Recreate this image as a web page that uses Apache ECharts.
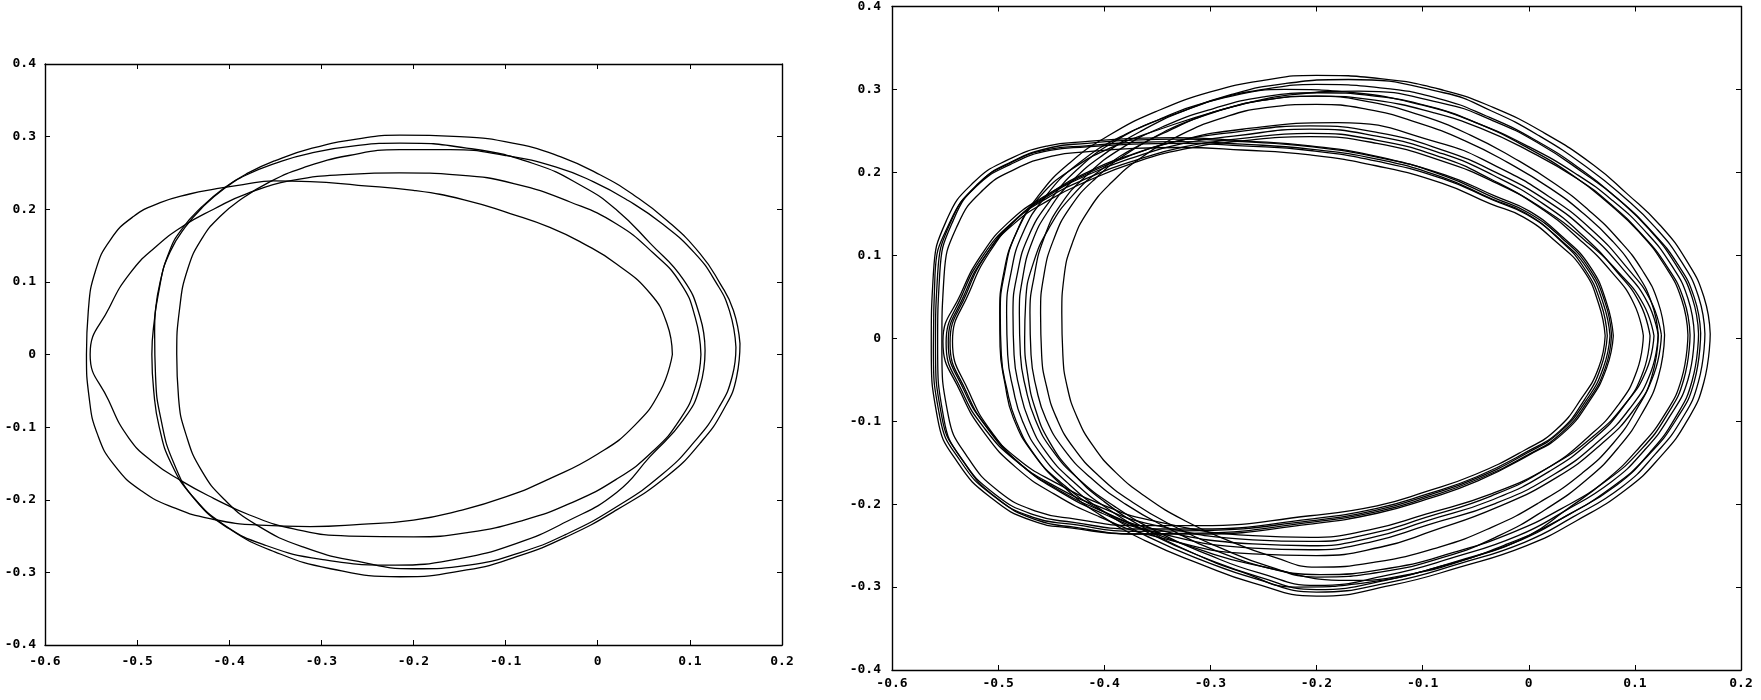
<!DOCTYPE html>
<html>
<head>
<meta charset="utf-8">
<script src="https://cdn.jsdelivr.net/npm/echarts@6/dist/echarts.min.js"></script>
<style>
html,body{margin:0;padding:0;background:#fff;}
#chart{width:1761px;height:700px;}
</style>
</head>
<body>
<div id="chart"></div>
<script>
// ---- axis ticks ----
const xTicks = [-0.6, -0.5, -0.4, -0.3, -0.2, -0.1, 0, 0.1, 0.2];
const yTicks = [-0.4, -0.3, -0.2, -0.1, 0, 0.1, 0.2, 0.3, 0.4];

// ---- left panel: trajectory loops [x, y] ----
const leftLoop1 = [[0.081,0.0],[0.075,0.043],[0.057,0.084],[0.02,0.125],[-0.016,0.153],[-0.052,0.175],[-0.095,0.194],[-0.145,0.213],[-0.2,0.226],[-0.26,0.233],[-0.312,0.238],[-0.352,0.239],[-0.385,0.234],[-0.415,0.228],[-0.443,0.221],[-0.475,0.209],[-0.504,0.19],[-0.529,0.158],[-0.545,0.116],[-0.553,0.06],[-0.555,0.0],[-0.552,-0.06],[-0.543,-0.11],[-0.525,-0.152],[-0.495,-0.188],[-0.458,-0.212],[-0.421,-0.226],[-0.367,-0.235],[-0.312,-0.237],[-0.258,-0.234],[-0.2,-0.228],[-0.15,-0.215],[-0.1,-0.196],[-0.052,-0.171],[0.0,-0.137],[0.039,-0.099],[0.068,-0.05],[0.081,0.0]];
const leftLoop2 = [[0.112,0.0],[0.106,0.05],[0.09,0.098],[0.06,0.14],[0.02,0.18],[-0.03,0.21],[-0.09,0.235],[-0.15,0.247],[-0.215,0.25],[-0.27,0.248],[-0.33,0.24],[-0.38,0.222],[-0.417,0.2],[-0.45,0.177],[-0.48,0.148],[-0.507,0.113],[-0.53,0.065],[-0.551,0.0],[-0.531,-0.063],[-0.509,-0.115],[-0.483,-0.148],[-0.452,-0.174],[-0.417,-0.198],[-0.378,-0.221],[-0.33,-0.24],[-0.27,-0.25],[-0.2,-0.251],[-0.14,-0.245],[-0.08,-0.228],[-0.03,-0.205],[0.02,-0.172],[0.06,-0.133],[0.09,-0.088],[0.106,-0.045],[0.112,0.0]];
const leftLoop3 = [[0.1165,0.006],[0.111,0.052],[0.093,0.103],[0.057,0.153],[0.0205,0.199],[-0.0157,0.231],[-0.07,0.263],[-0.1423,0.2843],[-0.2147,0.291],[-0.26,0.288],[-0.3124,0.277],[-0.3485,0.264],[-0.381,0.2475],[-0.405,0.229],[-0.428,0.204],[-0.448,0.175],[-0.464,0.142],[-0.475,0.1],[-0.481,0.05],[-0.484,0.0],[-0.482,-0.05],[-0.476,-0.1],[-0.463,-0.15],[-0.44,-0.195],[-0.405,-0.235],[-0.36,-0.263],[-0.3,-0.282],[-0.22,-0.29],[-0.15,-0.281],[-0.088,-0.26],[-0.0337,-0.23],[0.0205,-0.19],[0.0567,-0.1407],[0.0929,-0.09],[0.111,-0.044],[0.1165,0.006]];
const leftLoop4 = [[0.1544,0.015],[0.1472,0.061],[0.1327,0.098],[0.111,0.139],[0.0748,0.185],[0.0386,0.22],[0.0024,0.2475],[-0.04,0.272],[-0.088,0.29],[-0.15,0.3],[-0.2147,0.302],[-0.26,0.297],[-0.31,0.284],[-0.35,0.267],[-0.381,0.249],[-0.406,0.229],[-0.43,0.203],[-0.45,0.175],[-0.465,0.142],[-0.476,0.09],[-0.481,0.03],[-0.48,-0.03],[-0.474,-0.09],[-0.46,-0.15],[-0.437,-0.2],[-0.4,-0.24],[-0.35,-0.272],[-0.29,-0.295],[-0.2147,-0.306],[-0.1423,-0.2967],[-0.088,-0.2784],[-0.0337,-0.2509],[0.0205,-0.214],[0.0748,-0.168],[0.111,-0.1223],[0.1363,-0.0764],[0.1508,-0.0305],[0.1544,0.015]];
const leftLoop5 = [[0.150,0.01],[0.143,0.06],[0.128,0.1],[0.105,0.14],[0.07,0.18],[0.033,0.212],[-0.005,0.238],[-0.045,0.258],[-0.1,0.274],[-0.16,0.282],[-0.215,0.282],[-0.27,0.274],[-0.32,0.257],[-0.357,0.237],[-0.388,0.213],[-0.41,0.19],[-0.429,0.161],[-0.445,0.118],[-0.454,0.062],[-0.457,0.0],[-0.455,-0.06],[-0.447,-0.11],[-0.43,-0.16],[-0.405,-0.2],[-0.37,-0.235],[-0.32,-0.265],[-0.26,-0.285],[-0.2,-0.295],[-0.14,-0.29],[-0.085,-0.273],[-0.035,-0.248],[0.02,-0.21],[0.07,-0.165],[0.105,-0.12],[0.131,-0.074],[0.146,-0.03],[0.150,0.01]];

// ---- right panel: trajectory loops [x, y] ----
const rightOuterA = [[0.171,0.005],[0.165,0.05],[0.149,0.093],[0.124,0.136],[0.092,0.175],[0.061,0.209],[0.014,0.248],[-0.033,0.278],[-0.08,0.299],[-0.14,0.313],[-0.2,0.317],[-0.25,0.311],[-0.3,0.297],[-0.35,0.274],[-0.395,0.245],[-0.432,0.212],[-0.462,0.172],[-0.483,0.127],[-0.494,0.078],[-0.498,0.03],[-0.497,-0.02],[-0.492,-0.06],[-0.483,-0.1],[-0.466,-0.14],[-0.44,-0.177],[-0.404,-0.213],[-0.36,-0.245],[-0.31,-0.272],[-0.26,-0.295],[-0.2,-0.311],[-0.13,-0.298],[-0.065,-0.276],[-0.002,-0.25],[0.045,-0.22],[0.092,-0.182],[0.124,-0.143],[0.149,-0.1],[0.165,-0.053],[0.171,0.005]];
const rightOuterB = [[0.166,0.005],[0.16,0.05],[0.144,0.092],[0.119,0.134],[0.088,0.172],[0.056,0.205],[0.01,0.244],[-0.035,0.274],[-0.08,0.296],[-0.17,0.312],[-0.23,0.307],[-0.28,0.294],[-0.33,0.272],[-0.38,0.246],[-0.425,0.21],[-0.456,0.17],[-0.477,0.126],[-0.488,0.078],[-0.492,0.03],[-0.491,-0.02],[-0.486,-0.06],[-0.477,-0.1],[-0.46,-0.139],[-0.434,-0.175],[-0.399,-0.21],[-0.356,-0.241],[-0.307,-0.268],[-0.257,-0.29],[-0.2,-0.306],[-0.13,-0.294],[-0.066,-0.272],[-0.004,-0.246],[0.041,-0.216],[0.088,-0.179],[0.119,-0.14],[0.144,-0.098],[0.16,-0.052],[0.166,0.005]];
const rightOuterC = [[0.16,0.005],[0.154,0.049],[0.138,0.09],[0.113,0.132],[0.083,0.169],[0.051,0.202],[0.006,0.239],[-0.04,0.268],[-0.085,0.289],[-0.14,0.302],[-0.2,0.306],[-0.25,0.3],[-0.3,0.286],[-0.348,0.264],[-0.392,0.236],[-0.425,0.204],[-0.451,0.166],[-0.471,0.124],[-0.482,0.077],[-0.486,0.03],[-0.485,-0.02],[-0.48,-0.06],[-0.471,-0.099],[-0.455,-0.137],[-0.429,-0.173],[-0.395,-0.207],[-0.353,-0.238],[-0.305,-0.265],[-0.256,-0.287],[-0.2,-0.303],[-0.132,-0.291],[-0.068,-0.269],[-0.007,-0.243],[0.037,-0.213],[0.083,-0.177],[0.114,-0.138],[0.138,-0.096],[0.154,-0.051],[0.16,0.005]];
const rightOuterD = [[0.156,0.004],[0.15,0.048],[0.134,0.089],[0.109,0.13],[0.079,0.166],[0.046,0.197],[0.0,0.231],[-0.05,0.26],[-0.1,0.281],[-0.165,0.296],[-0.23,0.3],[-0.28,0.292],[-0.325,0.274],[-0.365,0.25],[-0.4,0.222],[-0.43,0.19],[-0.452,0.155],[-0.468,0.116],[-0.477,0.072],[-0.48,0.03],[-0.479,-0.02],[-0.474,-0.06],[-0.465,-0.098],[-0.449,-0.135],[-0.424,-0.17],[-0.39,-0.203],[-0.349,-0.234],[-0.302,-0.261],[-0.254,-0.283],[-0.2,-0.298],[-0.134,-0.286],[-0.07,-0.264],[-0.01,-0.238],[0.033,-0.209],[0.078,-0.173],[0.109,-0.135],[0.133,-0.094],[0.15,-0.05],[0.156,0.004]];
const rightOuterE = [[0.15,0.004],[0.144,0.047],[0.128,0.088],[0.104,0.128],[0.074,0.164],[0.042,0.196],[-0.003,0.231],[-0.048,0.259],[-0.092,0.279],[-0.145,0.292],[-0.2,0.296],[-0.25,0.291],[-0.297,0.277],[-0.343,0.256],[-0.385,0.228],[-0.416,0.197],[-0.441,0.161],[-0.457,0.12],[-0.466,0.075],[-0.47,0.03],[-0.469,-0.02],[-0.464,-0.06],[-0.455,-0.097],[-0.438,-0.134],[-0.413,-0.168],[-0.38,-0.2],[-0.34,-0.229],[-0.295,-0.256],[-0.235,-0.28],[-0.17,-0.292],[-0.11,-0.284],[-0.055,-0.265],[0.0,-0.238],[0.034,-0.208],[0.074,-0.17],[0.104,-0.132],[0.128,-0.092],[0.144,-0.049],[0.15,0.004]];
const rightOuterF = [[0.152,0.004],[0.146,0.047],[0.13,0.087],[0.106,0.126],[0.077,0.162],[0.045,0.193],[0.0,0.226],[-0.045,0.253],[-0.09,0.272],[-0.145,0.287],[-0.2,0.292],[-0.25,0.287],[-0.294,0.274],[-0.3475,0.252],[-0.3915,0.231],[-0.4292,0.205],[-0.4605,0.171],[-0.4825,0.128],[-0.4951,0.076],[-0.4985,0.03],[-0.4982,-0.01],[-0.4935,-0.055],[-0.4857,-0.096],[-0.4669,-0.139],[-0.4417,-0.173],[-0.404,-0.207],[-0.3569,-0.233],[-0.3098,-0.255],[-0.2627,-0.272],[-0.1967,-0.285],[-0.13,-0.277],[-0.07,-0.258],[-0.015,-0.234],[0.03,-0.206],[0.074,-0.171],[0.106,-0.134],[0.13,-0.093],[0.146,-0.05],[0.152,0.004]];
const rightOuterG = [[0.128,0.004],[0.122,0.043],[0.107,0.082],[0.084,0.12],[0.056,0.155],[0.025,0.186],[-0.015,0.218],[-0.055,0.245],[-0.1,0.268],[-0.15,0.285],[-0.2,0.292],[-0.25,0.287],[-0.295,0.273],[-0.338,0.251],[-0.377,0.224],[-0.408,0.193],[-0.432,0.158],[-0.448,0.118],[-0.457,0.075],[-0.46,0.03],[-0.459,-0.02],[-0.454,-0.06],[-0.445,-0.096],[-0.429,-0.132],[-0.405,-0.166],[-0.373,-0.198],[-0.334,-0.227],[-0.29,-0.253],[-0.245,-0.275],[-0.2,-0.288],[-0.14,-0.282],[-0.08,-0.264],[-0.028,-0.238],[0.015,-0.207],[0.055,-0.17],[0.085,-0.131],[0.107,-0.09],[0.122,-0.047],[0.128,0.004]];
const rightOuterH = [[0.122,0.004],[0.116,0.042],[0.101,0.08],[0.079,0.117],[0.051,0.151],[0.02,0.181],[-0.02,0.212],[-0.06,0.238],[-0.105,0.26],[-0.152,0.276],[-0.2,0.282],[-0.248,0.278],[-0.29,0.265],[-0.33,0.244],[-0.365,0.218],[-0.393,0.188],[-0.415,0.154],[-0.43,0.115],[-0.438,0.073],[-0.44,0.03],[-0.439,-0.02],[-0.435,-0.058],[-0.426,-0.094],[-0.411,-0.129],[-0.389,-0.162],[-0.36,-0.192],[-0.324,-0.22],[-0.283,-0.244],[-0.24,-0.264],[-0.2,-0.276],[-0.145,-0.27],[-0.085,-0.252],[-0.035,-0.228],[0.01,-0.198],[0.05,-0.163],[0.08,-0.126],[0.101,-0.087],[0.116,-0.046],[0.122,0.004]];
const rightOuterI = [[0.162,0.006],[0.156,0.049],[0.14,0.09],[0.115,0.13],[0.085,0.167],[0.052,0.199],[0.008,0.236],[-0.035,0.263],[-0.08,0.283],[-0.16,0.298],[-0.22,0.294],[-0.27,0.282],[-0.32,0.262],[-0.362,0.236],[-0.4,0.206],[-0.43,0.172],[-0.452,0.133],[-0.467,0.09],[-0.474,0.045],[-0.475,0.0],[-0.472,-0.045],[-0.465,-0.085],[-0.452,-0.124],[-0.43,-0.162],[-0.4,-0.197],[-0.362,-0.229],[-0.318,-0.258],[-0.27,-0.282],[-0.22,-0.3],[-0.15,-0.294],[-0.08,-0.274],[-0.02,-0.248],[0.03,-0.218],[0.078,-0.18],[0.112,-0.142],[0.139,-0.098],[0.156,-0.052],[0.162,0.006]];
const rightMidA = [[0.1143,0.003],[0.1048,0.0417],[0.0828,0.0805],[0.0514,0.1233],[0.0137,0.162],[-0.0334,0.1965],[-0.0805,0.2222],[-0.1433,0.2436],[-0.2061,0.2522],[-0.2784,0.2436],[-0.3255,0.235],[-0.3727,0.2179],[-0.4165,0.1965],[-0.4542,0.1706],[-0.4857,0.1405],[-0.5107,0.1019],[-0.5296,0.0547],[-0.5453,-0.0054],[-0.5296,-0.0656],[-0.5077,-0.1129],[-0.4794,-0.1515],[-0.4448,-0.1815],[-0.404,-0.2073],[-0.3569,-0.2288],[-0.26,-0.248],[-0.2061,-0.2502],[-0.15,-0.241],[-0.0962,-0.2202],[-0.0334,-0.1944],[0.02,-0.1601],[0.0609,-0.1214],[0.0891,-0.0828],[0.108,-0.0398],[0.1143,0.003]];
const rightMidB = [[0.108,0.003],[0.099,0.042],[0.078,0.08],[0.047,0.12],[0.01,0.158],[-0.036,0.192],[-0.082,0.218],[-0.144,0.239],[-0.206,0.247],[-0.276,0.24],[-0.324,0.231],[-0.372,0.214],[-0.416,0.193],[-0.455,0.168],[-0.488,0.138],[-0.514,0.1],[-0.534,0.052],[-0.549,-0.006],[-0.534,-0.064],[-0.512,-0.11],[-0.483,-0.148],[-0.447,-0.178],[-0.405,-0.203],[-0.357,-0.224],[-0.26,-0.243],[-0.206,-0.245],[-0.15,-0.236],[-0.097,-0.216],[-0.035,-0.19],[0.017,-0.157],[0.056,-0.119],[0.084,-0.081],[0.102,-0.039],[0.108,0.003]];
const rightMidC = [[0.122,0.004],[0.112,0.043],[0.089,0.083],[0.057,0.126],[0.018,0.165],[-0.031,0.2],[-0.079,0.226],[-0.142,0.248],[-0.206,0.256],[-0.28,0.248],[-0.327,0.239],[-0.373,0.222],[-0.416,0.2],[-0.452,0.174],[-0.483,0.143],[-0.508,0.104],[-0.527,0.056],[-0.543,-0.004],[-0.527,-0.066],[-0.505,-0.115],[-0.476,-0.155],[-0.442,-0.185],[-0.402,-0.211],[-0.355,-0.233],[-0.26,-0.253],[-0.206,-0.255],[-0.15,-0.246],[-0.095,-0.225],[-0.031,-0.199],[0.024,-0.164],[0.066,-0.124],[0.095,-0.085],[0.115,-0.041],[0.122,0.004]];
const rightMidD = [[0.118,0.003],[0.108,0.041],[0.085,0.079],[0.053,0.118],[0.015,0.155],[-0.032,0.188],[-0.08,0.213],[-0.143,0.235],[-0.206,0.243],[-0.277,0.237],[-0.325,0.228],[-0.371,0.212],[-0.415,0.19],[-0.453,0.166],[-0.486,0.137],[-0.512,0.1],[-0.532,0.052],[-0.547,-0.005],[-0.532,-0.063],[-0.51,-0.108],[-0.482,-0.145],[-0.446,-0.174],[-0.405,-0.199],[-0.358,-0.219],[-0.26,-0.238],[-0.206,-0.240],[-0.15,-0.231],[-0.097,-0.212],[-0.034,-0.187],[0.021,-0.154],[0.062,-0.117],[0.091,-0.079],[0.111,-0.038],[0.118,0.003]];
const rightMidE = [[0.125,0.004],[0.115,0.045],[0.092,0.086],[0.06,0.13],[0.02,0.17],[-0.03,0.207],[-0.085,0.236],[-0.18,0.26],[-0.27,0.252],[-0.33,0.238],[-0.378,0.219],[-0.42,0.196],[-0.458,0.17],[-0.49,0.14],[-0.515,0.102],[-0.535,0.054],[-0.552,-0.004],[-0.535,-0.066],[-0.512,-0.116],[-0.483,-0.156],[-0.447,-0.188],[-0.405,-0.215],[-0.355,-0.238],[-0.26,-0.26],[-0.2,-0.262],[-0.14,-0.252],[-0.09,-0.232],[-0.03,-0.204],[0.026,-0.168],[0.068,-0.128],[0.098,-0.088],[0.118,-0.043],[0.125,0.004]];
const rightInnerA = [[0.0766,0.003],[0.0703,0.0417],[0.0546,0.0848],[0.0295,0.1191],[-0.0019,0.1492],[-0.0334,0.1664],[-0.0805,0.1921],[-0.1433,0.2135],[-0.2061,0.2264],[-0.27,0.232],[-0.33,0.235],[-0.3727,0.234],[-0.4165,0.2307],[-0.4511,0.2264],[-0.4888,0.2093],[-0.5202,0.1835],[-0.5453,0.1405],[-0.5595,0.0762],[-0.561,-0.0098],[-0.5548,-0.0956],[-0.5359,-0.1474],[-0.5046,-0.19],[-0.4669,-0.216],[-0.4292,-0.2244],[-0.3727,-0.2328],[-0.31,-0.232],[-0.2061,-0.2202],[-0.1433,-0.2073],[-0.0962,-0.19],[-0.0491,-0.1687],[-0.0019,-0.1386],[0.0295,-0.1129],[0.0546,-0.074],[0.0703,-0.0355],[0.0766,0.003]];
const rightInnerB = [[0.0797,0.003],[0.0733,0.043],[0.0575,0.087],[0.032,0.122],[0.001,0.153],[-0.031,0.171],[-0.079,0.197],[-0.142,0.218],[-0.206,0.231],[-0.27,0.237],[-0.33,0.24],[-0.373,0.239],[-0.416,0.235],[-0.45,0.23],[-0.487,0.213],[-0.518,0.187],[-0.542,0.143],[-0.555,0.078],[-0.557,-0.01],[-0.551,-0.098],[-0.532,-0.15],[-0.501,-0.193],[-0.464,-0.219],[-0.427,-0.228],[-0.372,-0.236],[-0.31,-0.236],[-0.206,-0.224],[-0.143,-0.211],[-0.096,-0.194],[-0.048,-0.172],[0.0,-0.141],[0.032,-0.115],[0.057,-0.076],[0.0733,-0.036],[0.0797,0.003]];
const rightInnerC = [[0.072,0.003],[0.066,0.041],[0.051,0.083],[0.026,0.116],[-0.005,0.146],[-0.036,0.162],[-0.082,0.187],[-0.144,0.208],[-0.206,0.221],[-0.27,0.227],[-0.33,0.23],[-0.372,0.229],[-0.415,0.225],[-0.448,0.22],[-0.484,0.204],[-0.514,0.179],[-0.538,0.137],[-0.551,0.074],[-0.553,-0.01],[-0.547,-0.093],[-0.529,-0.143],[-0.499,-0.185],[-0.463,-0.209],[-0.427,-0.218],[-0.372,-0.226],[-0.31,-0.226],[-0.206,-0.214],[-0.143,-0.202],[-0.097,-0.185],[-0.05,-0.164],[-0.004,-0.135],[0.026,-0.11],[0.05,-0.072],[0.066,-0.035],[0.072,0.003]];
const rightInnerD = [[0.074,0.003],[0.068,0.042],[0.052,0.085],[0.028,0.12],[-0.003,0.151],[-0.035,0.168],[-0.081,0.194],[-0.143,0.216],[-0.206,0.228],[-0.27,0.234],[-0.33,0.237],[-0.373,0.236],[-0.417,0.232],[-0.451,0.228],[-0.489,0.211],[-0.52,0.185],[-0.544,0.142],[-0.557,0.077],[-0.559,-0.01],[-0.553,-0.095],[-0.534,-0.146],[-0.503,-0.188],[-0.466,-0.213],[-0.429,-0.222],[-0.373,-0.23],[-0.31,-0.23],[-0.206,-0.218],[-0.143,-0.205],[-0.096,-0.188],[-0.049,-0.167],[-0.002,-0.137],[0.029,-0.112],[0.053,-0.073],[0.068,-0.035],[0.074,0.003]];
const rightInnerE = [[0.078,0.004],[0.072,0.043],[0.056,0.086],[0.031,0.121],[0.0,0.151],[-0.032,0.169],[-0.08,0.196],[-0.142,0.219],[-0.206,0.232],[-0.27,0.238],[-0.33,0.242],[-0.373,0.241],[-0.418,0.237],[-0.453,0.232],[-0.491,0.215],[-0.523,0.188],[-0.548,0.144],[-0.561,0.078],[-0.563,-0.01],[-0.557,-0.097],[-0.538,-0.15],[-0.506,-0.193],[-0.468,-0.22],[-0.43,-0.229],[-0.373,-0.236],[-0.31,-0.235],[-0.206,-0.222],[-0.143,-0.209],[-0.096,-0.192],[-0.048,-0.17],[0.0,-0.14],[0.031,-0.114],[0.056,-0.075],[0.072,-0.036],[0.078,0.004]];

const leftLoops = [leftLoop1, leftLoop2, leftLoop3, leftLoop4, leftLoop5];
const rightLoops = [rightOuterA, rightOuterB, rightOuterC, rightOuterD, rightOuterE, rightOuterF, rightOuterG, rightOuterH, rightOuterI,
                    rightMidA, rightMidB, rightMidC, rightMidD, rightMidE,
                    rightInnerA, rightInnerB, rightInnerC, rightInnerD, rightInnerE];

// ---- chart ----
const FONT = 'DejaVu Sans Mono';
function fmt(v){ return Math.abs(v) < 1e-9 ? '0' : (Math.round(v*10)/10).toFixed(1); }

const grids = [
  {left:45, right:979, top:64, bottom:55},
  {left:892, right:20, top:5, bottom:30}
];
const labelMargins = [{x:10, y:9}, {x:7, y:11}];

const xAxes = [], yAxes = [];
grids.forEach((g, gi) => {
  const base = {
    type:'value', gridIndex:gi, min:xTicks[0], max:xTicks[xTicks.length-1], interval:0.1,
    splitLine:{show:false},
    axisLine:{show:true, onZero:false, lineStyle:{color:'#000', width:1.4}},
    axisTick:{show:true, inside:true, length:5, lineStyle:{color:'#000', width:1}}
  };
  xAxes.push(Object.assign({}, base, {position:'bottom',
    axisLabel:{show:true, margin:labelMargins[gi].x, color:'#000', fontFamily:FONT, fontWeight:'bold', fontSize:13, formatter:fmt}}));
  xAxes.push(Object.assign({}, base, {position:'top', axisLabel:{show:false}}));
  const ybase = Object.assign({}, base, {min:yTicks[0], max:yTicks[yTicks.length-1]});
  yAxes.push(Object.assign({}, ybase, {position:'left',
    axisLabel:{show:true, margin:labelMargins[gi].y, color:'#000', fontFamily:FONT, fontWeight:'bold', fontSize:13, formatter:fmt}}));
  yAxes.push(Object.assign({}, ybase, {position:'right', axisLabel:{show:false}}));
});

const series = [];
function addLoops(loops, gi){
  loops.forEach(loop => {
    series.push({
      type:'line', xAxisIndex:gi*2, yAxisIndex:gi*2, data:loop,
      showSymbol:false, smooth:0.5, silent:true,
      lineStyle:{color:'#000', width:1.3}
    });
  });
}
addLoops(leftLoops, 0);
addLoops(rightLoops, 1);

const chart = echarts.init(document.getElementById('chart'), null, {renderer:'canvas'});
chart.setOption({
  animation:false,
  backgroundColor:'#fff',
  grid:grids,
  xAxis:xAxes,
  yAxis:yAxes,
  series:series
});
</script>
</body>
</html>
